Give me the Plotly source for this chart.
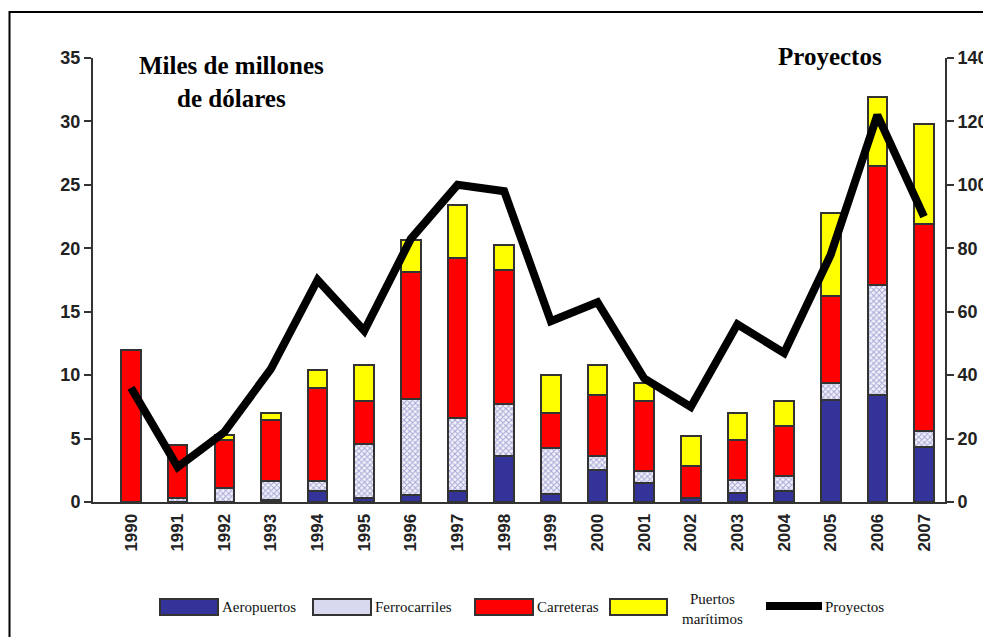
import plotly.graph_objects as go

years = [str(y) for y in range(1990, 2008)]
aeropuertos = [0, 0, 0, 0.15, 0.9, 0.3, 0.55, 0.9, 3.65, 0.65, 2.5, 1.5, 0.35, 0.7, 0.9, 8.05, 8.45, 4.3]
ferrocarriles = [0, 0.3, 1.1, 1.5, 0.75, 4.3, 7.6, 5.7, 4.1, 3.6, 1.15, 0.95, 0, 1.0, 1.15, 1.35, 8.65, 1.3]
carreteras = [12.0, 4.2, 3.8, 4.8, 7.3, 3.4, 9.95, 12.65, 10.5, 2.75, 4.75, 5.55, 2.5, 3.2, 3.95, 6.8, 9.35, 16.3]
puertos = [0, 0, 0.4, 0.6, 1.45, 2.8, 2.55, 4.15, 2.0, 3.0, 2.4, 1.4, 2.35, 2.15, 2.0, 6.6, 5.5, 7.9]
proyectos = [36, 11, 22, 42, 70, 54, 83, 100, 98, 57, 63, 39, 30, 56, 47, 78, 122, 90]

left_ticks = [0, 5, 10, 15, 20, 25, 30, 35]
right_ticks = [0, 20, 40, 60, 80, 100, 120, 140]

# page offset (browser body margin)
OFF = 8
W, H = 991, 637
L, T = 93 - OFF, 58 - OFF
R = W - (945 - OFF)
B = H - (502 - OFF)
pw, ph = W - L - R, H - T - B

def px(x):
    return (x - OFF - L) / pw

def py(y):
    return (H - B - (y - OFF)) / ph

outline = dict(color="#333333", width=2)
bw = 0.42
fig = go.Figure()
fig.add_bar(x=years, y=aeropuertos, name="Aeropuertos", width=bw,
            marker=dict(color="#333399", line=outline), showlegend=False)
fig.add_bar(x=years, y=ferrocarriles, name="Ferrocarriles", width=bw,
            marker=dict(color="white", line=outline,
                        pattern=dict(shape="x", fgcolor="#5c5cb0", bgcolor="#f2f2fb", size=4, solidity=0.45)),
            showlegend=False)
fig.add_bar(x=years, y=carreteras, name="Carreteras", width=bw,
            marker=dict(color="#FF0000", line=outline), showlegend=False)
fig.add_bar(x=years, y=puertos, name="Puertos marítimos", width=bw,
            marker=dict(color="#FFFF00", line=outline), showlegend=False)
fig.add_scatter(x=years, y=proyectos, name="Proyectos", yaxis="y2", mode="lines",
                line=dict(color="black", width=8), showlegend=False)

shapes = []
annotations = []
# outer frame
shapes.append(dict(type="rect", xref="paper", yref="paper",
                   x0=px(9.5), x1=px(1010), y0=py(680), y1=py(12),
                   line=dict(color="black", width=2), fillcolor="rgba(0,0,0,0)", layer="below"))

# manual legend
ly = 607
lfont = dict(family="Liberation Serif", size=15, color="#111")
items = [
    (160, 218, "#333399", "Aeropuertos", 220),
    (313, 371, "#d8d8ee", "Ferrocarriles", 373),
    (475, 533, "#FF0000", "Carreteras", 535),
    (610, 667, "#FFFF00", None, None),
]
for x0, x1, fill, label, tx in items:
    shapes.append(dict(type="rect", xref="paper", yref="paper",
                       x0=px(x0), x1=px(x1), y0=py(ly + 8), y1=py(ly - 8),
                       line=dict(color="#333333", width=2), fillcolor=fill))
    if label:
        annotations.append(dict(x=px(tx), y=py(ly), xref="paper", yref="paper", text=label,
                                showarrow=False, xanchor="left", yanchor="middle", font=lfont))
annotations.append(dict(x=px(712), y=py(ly + 2), xref="paper", yref="paper", text="Puertos<br>marítimos",
                        showarrow=False, xanchor="center", yanchor="middle", font=lfont))
shapes.append(dict(type="line", xref="paper", yref="paper", x0=px(766), x1=px(822),
                   y0=py(ly - 1), y1=py(ly - 1), line=dict(color="black", width=8)))
annotations.append(dict(x=px(823), y=py(ly), xref="paper", yref="paper", text="Proyectos",
                        showarrow=False, xanchor="left", yanchor="middle", font=lfont))

annotations.append(dict(x=px(231), y=py(82), xref="paper", yref="paper",
                        text="<b>Miles de millones<br>de dólares</b>", showarrow=False,
                        xanchor="center", yanchor="middle", align="center",
                        font=dict(family="Liberation Serif", size=25, color="black")))
annotations.append(dict(x=px(830), y=py(56), xref="paper", yref="paper",
                        text="<b>Proyectos</b>", showarrow=False,
                        xanchor="center", yanchor="middle",
                        font=dict(family="Liberation Serif", size=25, color="black")))

tickfont = dict(family="Arial", size=18, color="#222222", weight="bold")
fig.update_layout(
    width=W, height=H,
    margin=dict(l=L, r=R, t=T, b=B, autoexpand=False),
    barmode="stack",
    plot_bgcolor="white", paper_bgcolor="white",
    shapes=shapes, annotations=annotations,
    xaxis=dict(type="category", range=[-0.815, 17.45], showline=True, linecolor="#333333",
               linewidth=2, tickangle=-90, ticks="", showgrid=False,
               tickfont=dict(family="Arial", size=17, color="#222222", weight="bold"),
               ticklabelstandoff=3),
    yaxis=dict(range=[0, 35], tickvals=left_ticks, showline=True, linecolor="#333333",
               linewidth=2, ticks="outside", ticklen=7, tickwidth=2, tickcolor="#333333",
               showgrid=False, zeroline=False, tickfont=tickfont),
    yaxis2=dict(range=[0, 140], tickvals=right_ticks, overlaying="y", side="right",
                showline=True, linecolor="#333333", linewidth=2, ticks="outside", ticklen=7,
                tickwidth=2, tickcolor="#333333", showgrid=False, zeroline=False,
                tickfont=tickfont),
    font=dict(family="Arial"),
)

fig.write_html("out.html")
